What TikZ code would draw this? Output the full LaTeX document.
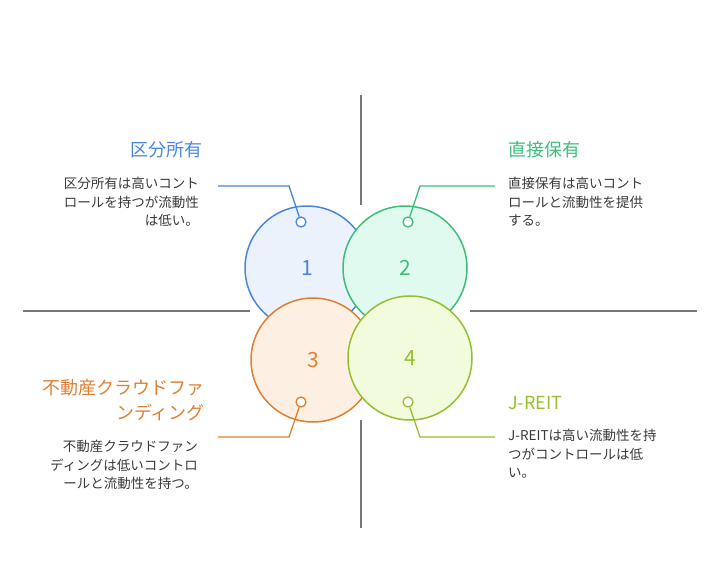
\documentclass[tikz,border=0pt]{standalone}
\usepackage{fontspec}
\setmainfont{Noto Sans CJK JP}
\definecolor{cb}{HTML}{4A86E0}\definecolor{fb}{HTML}{ECF2FC}
\definecolor{cg}{HTML}{3CBF7A}\definecolor{fg}{HTML}{E0FAF0}
\definecolor{co}{HTML}{E07F30}\definecolor{fo}{HTML}{FDF0E3}
\definecolor{cl}{HTML}{94C030}\definecolor{fl}{HTML}{F2FCDC}
\definecolor{tx}{HTML}{3A3A3A}\definecolor{ax}{HTML}{777777}
\begin{document}
\begin{tikzpicture}[x=1pt,y=-1pt,
 big/.style={circle,minimum size=124pt,inner sep=0pt,line width=1.5pt,font=\fontsize{21}{21}\selectfont},
 dot/.style={circle,minimum size=10pt,inner sep=0pt,line width=1.3pt,fill=white},
 ttl/.style={font=\fontsize{18}{25}\selectfont,inner sep=0pt},
 desc/.style={font=\fontsize{13.5}{18.5}\selectfont,text=tx,inner sep=0pt},
 lead/.style={line width=1.3pt}]
\useasboundingbox (0,0) rectangle (721,588);
\draw[ax,line width=1.2pt] (361,95) -- (361,205) (361,420) -- (361,528) (23,311) -- (250,311) (470,311) -- (697,311);
\node[big,draw=cb,fill=fb,text=cb] (c1) at (307,268) {1};
\node[big,draw=cg,fill=fg,text=cg] (c2) at (405,268) {2};
\node[big,draw=co,fill=fo,text=co] (c3) at (313,360) {3};
\node[big,draw=cl,fill=fl,text=cl] (c4) at (410,358) {4};
\node[dot,draw=cb] (d1) at (301,222) {};
\node[dot,draw=cg] (d2) at (408,222) {};
\node[dot,draw=co] (d3) at (301,402) {};
\node[dot,draw=cl] (d4) at (408,402) {};
\coordinate (e1) at (218,186); \coordinate (e2) at (495,186);
\coordinate (e3) at (218,437); \coordinate (e4) at (495,437);
\draw[lead,cb] (d1) -- (289,186) -- (e1);
\draw[lead,cg] (d2) -- (420,186) -- (e2);
\draw[lead,co] (d3) -- (289,437) -- (e3);
\draw[lead,cl] (d4) -- (420,437) -- (e4);
\node[ttl,text=cb,anchor=east] (t1) at (203,150) {区分所有};
\node[ttl,text=cg,anchor=west] (t2) at (508,150) {直接保有};
\node[ttl,text=co,anchor=east,align=right] (t3) at (205,400) {不動産クラウドファ\\ンディング};
\node[ttl,text=cl,anchor=west] (t4) at (508,403) {J-REIT};
\node[desc,anchor=north east,align=right] (s1) at (199,177) {区分所有は高いコント\\ロールを持つが流動性\\は低い。};
\node[desc,anchor=north west,align=left] (s2) at (508,177) {直接保有は高いコント\\ロールと流動性を提供\\する。};
\node[desc,anchor=north east,align=right] (s3) at (198,440) {不動産クラウドファン\\ディングは低いコントロ\\ールと流動性を持つ。};
\node[desc,anchor=north west,align=left] (s4) at (508,429) {J-REITは高い流動性を持\\つがコントロールは低\\い。};
\end{tikzpicture}
\end{document}
